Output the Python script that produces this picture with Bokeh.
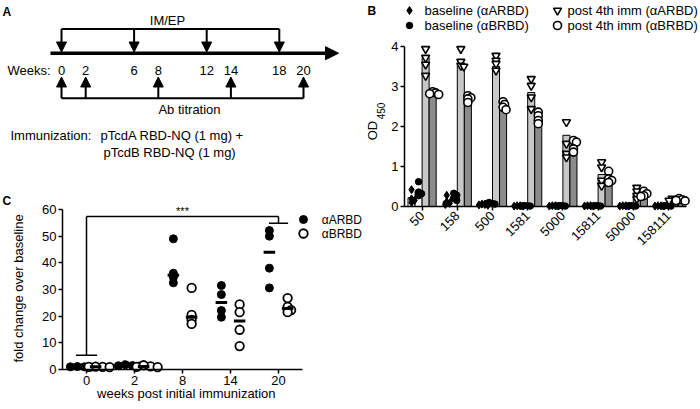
import numpy as np
from bokeh.plotting import figure
from bokeh.layouts import row, column
from bokeh.models import Range1d, FixedTicker, Arrow, NormalHead, ColumnDataSource
from bokeh.embed import file_html
from bokeh.resources import INLINE
from bokeh.core.properties import value

FONT = "Liberation Sans"
FS = "13px"

# ---------------- Panel A data ----------------
im_ep_weeks = [0, 6, 12, 18]
titration_weeks = [0, 2, 8, 14, 20]
week_labels = [0, 2, 6, 8, 12, 14, 18, 20]

# ---------------- Panel B data ----------------
dilutions = ["50", "158", "500", "1581", "5000", "15811", "50000", "158111"]
bar_base_a = [0.22, 0.13, 0.05, 0.02, 0.02, 0.02, 0.02, 0.02]
bar_base_b = [0.38, 0.24, 0.08, 0.02, 0.02, 0.02, 0.02, 0.02]
bar_post_a = [3.72, 3.55, 3.50, 2.85, 1.78, 0.80, 0.30, 0.18]
bar_post_b = [2.84, 2.70, 2.55, 2.20, 1.50, 0.72, 0.33, 0.18]
pts_base_a = [[0.42, 0.19, 0.15, 0.10], [0.28, 0.12, 0.08, 0.05], [0.06, 0.04, 0.03, 0.05],
              [0.02, 0.01, 0.02, 0.01], [0.02, 0.01, 0.02, 0.01], [0.02, 0.01, 0.02, 0.01],
              [0.02, 0.01, 0.02, 0.01], [0.02, 0.01, 0.02, 0.01]]
pts_base_b = [[0.62, 0.36, 0.32, 0.27], [0.33, 0.28, 0.20, 0.15], [0.10, 0.08, 0.06, 0.07],
              [0.02, 0.01, 0.02, 0.01], [0.02, 0.01, 0.02, 0.01], [0.02, 0.01, 0.02, 0.01],
              [0.02, 0.01, 0.02, 0.01], [0.02, 0.01, 0.02, 0.01]]
pts_post_a = [[3.94, 3.72, 3.55, 3.27], [3.94, 3.62, 3.52, 3.50], [3.77, 3.65, 3.57, 3.40],
              [3.19, 3.02, 2.73, 2.44], [2.11, 1.57, 1.32, 1.23], [1.11, 0.98, 0.65, 0.52],
              [0.47, 0.38, 0.27, 0.19], [0.20, 0.17, 0.15, 0.14]]
pts_post_b = [[2.87, 2.84, 2.82, 2.80], [2.77, 2.72, 2.69, 2.60], [2.62, 2.55, 2.48, 2.42],
              [2.36, 2.27, 2.15, 2.07], [1.65, 1.61, 1.44, 1.36], [0.88, 0.69, 0.65, 0.60],
              [0.38, 0.32, 0.27, 0.25], [0.20, 0.17, 0.15, 0.14]]

# ---------------- Panel C data ----------------
c_weeks = ["0", "2", "8", "14", "20"]
c_arbd = [[1.0, 1.0, 1.1, 0.9], [1.3, 1.5, 1.4, 1.8], [49.0, 36.1, 34.6, 32.5],
          [31.5, 28.1, 22.1, 19.6], [50.0, 52.1, 38.0, 30.6]]
c_brbd = [[1.0, 1.1, 1.0, 0.9], [1.2, 0.9, 1.0, 1.6], [30.6, 20.5, 18.6, 17.1],
          [24.4, 21.5, 14.9, 8.8], [26.8, 23.5, 22.3, 21.5]]


def swarm(vals, xscale, yscale, diam, step):
    vals = np.asarray(vals, dtype=float)
    offs = np.zeros(len(vals))
    placed = []
    cands = [0.0]
    for j in range(1, 12):
        cands += [j * step, -j * step]
    for i in np.argsort(-vals):
        y = vals[i] * yscale
        for c in cands:
            if all((c - px) ** 2 + (y - py) ** 2 >= diam ** 2 for px, py in placed):
                break
        offs[i] = c / xscale
        placed.append((c, y))
    return offs


def txt(p, x, y, s, size=FS, align="left", baseline="middle", style="normal", angle=0):
    p.text(x=[x], y=[y], text=[s], text_font=value(FONT), text_font_size=size,
           text_align=align, text_baseline=baseline, text_font_style=style,
           text_color="black", angle=angle)


def clean(p):
    p.grid.visible = False
    p.outline_line_color = None
    p.background_fill_color = "white"
    p.border_fill_color = "white"


def style_axis(ax):
    ax.major_label_text_font = FONT
    ax.major_label_text_font_size = FS
    ax.major_label_text_color = "black"
    ax.minor_tick_line_color = None
    ax.major_tick_line_color = "black"
    ax.major_tick_line_width = 1.5
    ax.axis_line_width = 1.5
    ax.axis_line_color = "black"
    ax.major_tick_in = 0
    ax.major_tick_out = 4


LW = 364  # left column width

# ================= Panel A =================
PXW = 12.1
W0 = 61.0  # pixel position of week 0
pA = figure(width=LW, height=190, x_range=Range1d(-W0 / PXW, (LW - W0) / PXW),
            y_range=Range1d(190, 0), x_axis_type=None, y_axis_type=None, min_border=0,
            output_backend="svg", toolbar_location=None)
clean(pA)
txt(pA, (2 - W0) / PXW, 4, "A", size="12px", baseline="top", style="bold")
txt(pA, (167 - W0) / PXW, 20, "IM/EP", align="center")
pA.segment(x0=[min(im_ep_weeks)], x1=[max(im_ep_weeks)], y0=[28.5], y1=[28.5],
           line_width=2, line_color="black")
src_down = ColumnDataSource(dict(xs=im_ep_weeks, ys=[28.5] * len(im_ep_weeks),
                                 xe=im_ep_weeks, ye=[51.5] * len(im_ep_weeks)))
pA.add_layout(Arrow(source=src_down, x_start="xs", y_start="ys", x_end="xe", y_end="ye",
                    line_width=2, line_color="black",
                    end=NormalHead(size=10, fill_color="black", line_color="black", line_width=1)))
pA.add_layout(Arrow(x_start=(50 - W0) / PXW, y_start=52.7, x_end=(338 - W0) / PXW, y_end=52.7,
                    line_width=3.5, line_color="black",
                    end=NormalHead(size=13, fill_color="black", line_color="black", line_width=1)))
txt(pA, (50 - W0) / PXW, 70, "Weeks:", align="right")
pA.text(x=week_labels, y=[70] * len(week_labels), text=[str(w) for w in week_labels],
        text_font=value(FONT), text_font_size=FS, text_align="center", text_baseline="middle",
        text_color="black")
src_up = ColumnDataSource(dict(xs=titration_weeks, ys=[97.7] * len(titration_weeks),
                               xe=titration_weeks, ye=[76.5] * len(titration_weeks)))
pA.add_layout(Arrow(source=src_up, x_start="xs", y_start="ys", x_end="xe", y_end="ye",
                    line_width=2, line_color="black",
                    end=NormalHead(size=10, fill_color="black", line_color="black", line_width=1)))
pA.segment(x0=[min(titration_weeks)], x1=[max(titration_weeks)], y0=[97.7], y1=[97.7],
           line_width=2, line_color="black")
txt(pA, (189 - W0) / PXW, 108.5, "Ab titration", align="center")
txt(pA, (10 - W0) / PXW, 135, "Immunization:")
txt(pA, (100 - W0) / PXW, 135, "pTcdA RBD-NQ (1 mg) +")
txt(pA, (103 - W0) / PXW, 152, "pTcdB RBD-NQ (1 mg)")

# ================= Panel C =================
CX = 48.0             # px per week group
CY = 160.0 / 60.0     # px per fold unit
CH = 219              # figure height
C0Y = 179             # pixel row of value 0 inside the figure
C0X = 62              # pixel column of the y axis (x = -0.5)
pC = figure(width=LW, height=CH, x_range=Range1d(-0.5 - C0X / CX, -0.5 + (LW - C0X) / CX),
            y_range=Range1d(-(CH - C0Y) / CY, C0Y / CY), min_border=0,
            output_backend="svg", toolbar_location=None)
clean(pC)
style_axis(pC.xaxis[0])
style_axis(pC.yaxis[0])
pC.xaxis.fixed_location = 0
pC.xaxis.bounds = (-0.5, len(c_weeks) - 0.5)
pC.xaxis.ticker = FixedTicker(ticks=list(range(len(c_weeks))))
pC.xaxis.major_label_overrides = {i: w for i, w in enumerate(c_weeks)}
pC.xaxis.major_label_standoff = 2
pC.yaxis.fixed_location = -0.5
pC.yaxis.bounds = (0, 60)
pC.yaxis.ticker = FixedTicker(ticks=list(range(0, 61, 10)))
pC.yaxis.major_label_standoff = 2

GOFF = 0.19
for gi in range(len(c_weeks)):
    a = c_arbd[gi]
    b = c_brbd[gi]
    xa = gi - GOFF + swarm(a, CX, CY, 4.0, 3.5)
    xb = gi + GOFF + swarm(b, CX, CY, 4.0, 3.5)
    pC.scatter(x=xa, y=a, size=8, marker="circle", fill_color="black", line_color="black")
    pC.scatter(x=xb, y=b, size=8.5, marker="circle", fill_color="white", line_color="black",
               line_width=1.8)
    ma, mb = float(np.median(a)), float(np.median(b))
    pC.segment(x0=[gi - GOFF - 0.12], x1=[gi - GOFF + 0.12], y0=[ma], y1=[ma],
               line_width=3, line_color="black")
    pC.segment(x0=[gi + GOFF - 0.12], x1=[gi + GOFF + 0.12], y0=[mb], y1=[mb],
               line_width=3, line_color="black")

# significance bracket week 0 vs week 20
last = len(c_weeks) - 1
pC.segment(x0=[0, 0, -0.22, last, last - 0.2], x1=[0, last, 0.22, last, last + 0.2],
           y0=[5.3, 57.4, 5.3, 57.4, 54.8], y1=[57.4, 57.4, 5.3, 54.8, 54.8],
           line_width=1.5, line_color="black")
txt(pC, 2.0, 59.6, "***", size="11px", align="center")
# legend
pC.scatter(x=[4.52], y=[56.25], size=8, marker="circle", fill_color="black", line_color="black")
pC.scatter(x=[4.52], y=[51.0], size=8.5, marker="circle", fill_color="white", line_color="black",
           line_width=1.8)
txt(pC, 4.9, 56.25, "αARBD", size="12px")
txt(pC, 4.9, 51.0, "αBRBD", size="12px")
txt(pC, -0.5 + (2 - C0X) / CX, (C0Y - 10) / CY, "C", size="12px", style="bold")
txt(pC, -0.5 + (18 - C0X) / CX, 30.4, "fold change over baseline", align="center",
    angle=np.pi / 2)
txt(pC, 2.08, -9.0, "weeks post initial immunization", align="center")

# ================= Panel B =================
BW = 700 - LW
BH = 265
BX = 35.2
BY = 40.0
B0X = 404 - LW   # pixel column of the y axis (x = -0.5)
B0Y = 206        # pixel row of value 0
pB = figure(width=BW, height=BH, x_range=Range1d(-0.5 - B0X / BX, -0.5 + (BW - B0X) / BX),
            y_range=Range1d(-(BH - B0Y) / BY, B0Y / BY), min_border=0,
            output_backend="svg", toolbar_location=None)
clean(pB)
style_axis(pB.xaxis[0])
style_axis(pB.yaxis[0])
pB.xaxis.fixed_location = 0
pB.xaxis.bounds = (-0.5, len(dilutions) - 0.5)
pB.xaxis.ticker = FixedTicker(ticks=list(range(len(dilutions))))
pB.xaxis.major_label_overrides = {i: d for i, d in enumerate(dilutions)}
pB.xaxis.major_label_orientation = np.pi / 4
pB.xaxis.major_label_standoff = 3
pB.yaxis.fixed_location = -0.5
pB.yaxis.bounds = (0, 4)
pB.yaxis.ticker = FixedTicker(ticks=[0, 1, 2, 3, 4])
pB.yaxis.major_label_standoff = 2

idx = np.arange(len(dilutions))
series = [
    (bar_base_a, pts_base_a, -0.3, "white",
     dict(marker="diamond", size=8, fill_color="black", line_color="black")),
    (bar_base_b, pts_base_b, -0.1, "white",
     dict(marker="circle", size=6.5, fill_color="black", line_color="black")),
    (bar_post_a, pts_post_a, 0.1, "#c8c8c8",
     dict(marker="inverted_triangle", size=8, fill_color="white", line_color="black", line_width=1.6)),
    (bar_post_b, pts_post_b, 0.3, "#8c8c8c",
     dict(marker="circle", size=8, fill_color="white", line_color="black", line_width=1.6)),
]
for bars, pts, off, col, mk in series:
    pB.vbar(x=idx + off, top=bars, bottom=0, width=0.2, fill_color=col, line_color="black",
            line_width=1)
for bars, pts, off, col, mk in series:
    xs, ys = [], []
    for gi, vals in enumerate(pts):
        xo = swarm(vals, BX, BY, 3.0, 1.5)
        xs += list(gi + off + xo)
        ys += list(vals)
    pB.scatter(x=xs, y=ys, **mk)

# legend
leg_y1, leg_y2 = (B0Y - 10) / BY, (B0Y - 25) / BY
lx1 = -0.5 + (409 - 404) / BX
lx2 = -0.5 + (557 - 404) / BX
pB.scatter(x=[lx1], y=[leg_y1], marker="diamond", size=8, fill_color="black", line_color="black")
pB.scatter(x=[lx1], y=[leg_y2], marker="circle", size=6.5, fill_color="black", line_color="black")
pB.scatter(x=[lx2], y=[leg_y1], marker="inverted_triangle", size=8, fill_color="white",
           line_color="black", line_width=1.6)
pB.scatter(x=[lx2], y=[leg_y2], marker="circle", size=8, fill_color="white", line_color="black",
           line_width=1.6)
tx1 = -0.5 + (424 - 404) / BX
tx2 = -0.5 + (567 - 404) / BX
txt(pB, tx1, leg_y1, "baseline (αARBD)")
txt(pB, tx1, leg_y2, "baseline (αBRBD)")
txt(pB, tx2, leg_y1, "post 4th imm (αARBD)")
txt(pB, tx2, leg_y2, "post 4th imm (αBRBD)")
txt(pB, -0.5 + (367 - 404) / BX, leg_y1, "B", size="12px", style="bold")
txt(pB, -0.5 + (372 - 404) / BX, (B0Y - 130) / BY, "OD", align="center", angle=np.pi / 2)
txt(pB, -0.5 + (380 - 404) / BX, (B0Y - 110.5) / BY, "450", size="10px", align="center",
    angle=np.pi / 2)

layout = row(column(pA, pC), pB)
open("out.html", "w").write(file_html(layout, INLINE))
